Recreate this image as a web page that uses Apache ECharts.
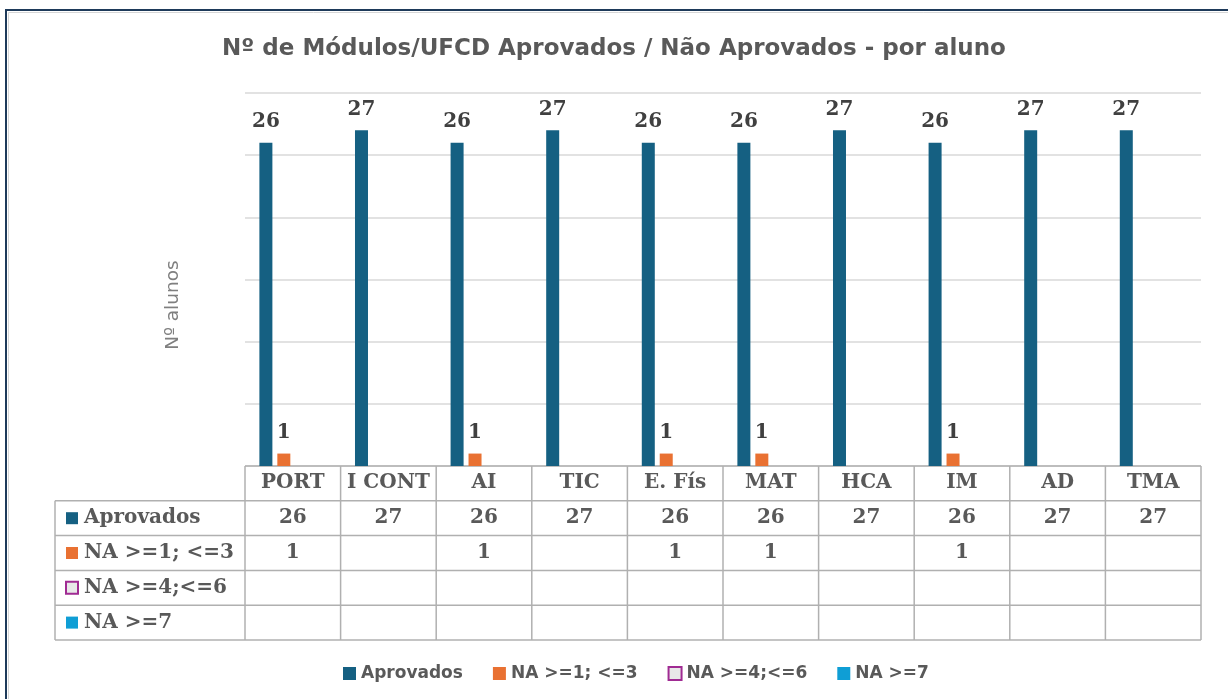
<!DOCTYPE html>
<html>
<head>
<meta charset="utf-8">
<script src="https://cdn.jsdelivr.net/npm/echarts@6/dist/echarts.min.js"></script>
<style>
	html, body { margin: 0; padding: 0; background: #fff; }
	#chart { width: 1228px; height: 699px; }
</style>
</head>
<body>
<div id="chart"></div>
<script>
	// data
	var categories = ['PORT', 'I CONT', 'AI', 'TIC', 'E. Fís', 'MAT', 'HCA', 'IM', 'AD', 'TMA'];
	var seriesNames = ['Aprovados', 'NA >=1; <=3', 'NA >=4;<=6', 'NA >=7'];
	var aprovados = [26, 27, 26, 27, 26, 26, 27, 26, 27, 27];
	var na1to3 = [1, null, 1, null, 1, 1, null, 1, null, null];
	var na4to6 = [null, null, null, null, null, null, null, null, null, null];
	var na7plus = [null, null, null, null, null, null, null, null, null, null];
	var colors = ['#156082', '#E97132', '#E8E8E8', '#0F9ED5'];

	var allValues = [aprovados, na1to3, na4to6, na7plus];
	var serifFont = '"DejaVu Serif", serif';
	var sansFont = '"DejaVu Sans", sans-serif';
	var gridTop = 93, gridBottom = 466, gridLeft = 245, gridRight = 1201;
	var rowH = 34.8;

	var chart = echarts.init(document.getElementById('chart'));

	function makeSeries(i) {
		var s = {
			name: seriesNames[i],
			type: 'bar',
			data: allValues[i],
			barWidth: 13,
			barGap: '38%',
			itemStyle: { color: colors[i] },
			label: {
				show: true,
				position: 'top',
				distance: 11,
				fontFamily: serifFont,
				fontWeight: 'bold',
				fontSize: 20,
				color: '#404040'
			}
		};
		if (i === 2) {
			s.itemStyle = { color: colors[i], borderColor: '#A02B93', borderWidth: 2 };
		}
		return s;
	}

	chart.setOption({
		animation: false,
		title: {
			text: 'Nº de Módulos/UFCD Aprovados / Não Aprovados - por aluno',
			left: 'center',
			top: 33,
			textStyle: { fontFamily: sansFont, fontWeight: 'bold', fontSize: 23, color: '#595959' }
		},
		legend: {
			bottom: 12,
			left: 338,
			itemWidth: 13,
			itemHeight: 13,
			itemGap: 30,
			icon: 'rect',
			textStyle: { fontFamily: sansFont, fontSize: 17, color: '#595959', fontWeight: 'bold' },
			data: seriesNames.map(function (n, i) {
				if (i === 2) return { name: n, itemStyle: { color: '#E8E8E8', borderColor: '#A02B93', borderWidth: 2 } };
				return { name: n };
			})
		},
		grid: { left: gridLeft, right: 1228 - gridRight, top: gridTop, bottom: 699 - gridBottom },
		xAxis: {
			type: 'category',
			data: categories,
			axisLine: { show: false },
			axisTick: { show: false },
			axisLabel: {
				interval: 0,
				margin: 7,
				fontFamily: serifFont,
				fontWeight: 'bold',
				fontSize: 20,
				color: '#595959'
			}
		},
		yAxis: {
			type: 'value',
			min: 0,
			max: 30,
			interval: 5,
			axisLabel: { show: false },
			axisLine: { show: false },
			axisTick: { show: false },
			splitLine: { lineStyle: { color: '#D9D9D9', width: 1.5 } }
		},
		series: [0, 1, 2, 3].map(makeSeries)
	});

	// data table under the plot, placed with the category scale
	function drawTable() {
		var els = [];
		var lineStyle = { stroke: '#B0B0B0', lineWidth: 1.5 };
		var half = (gridRight - gridLeft) / categories.length / 2;
		var tableLeft = 55;
		var top = gridBottom;
		var bottom = top + rowH * 5;

		// frame around the whole chart
		els.push({ type: 'rect', shape: { x: 6, y: 10, width: 1240, height: 720 }, style: { fill: null, stroke: '#1E3A5A', lineWidth: 2 } });
		els.push({ type: 'rect', shape: { x: 8.5, y: 12.5, width: 1236, height: 716 }, style: { fill: null, stroke: '#D6D6D6', lineWidth: 1 } });

		// horizontal lines
		els.push({ type: 'line', shape: { x1: gridLeft, y1: top, x2: gridRight, y2: top }, style: lineStyle });
		for (var r = 1; r <= 5; r++) {
			var y = top + rowH * r;
			els.push({ type: 'line', shape: { x1: tableLeft, y1: y, x2: gridRight, y2: y }, style: lineStyle });
		}
		// vertical lines
		els.push({ type: 'line', shape: { x1: tableLeft, y1: top + rowH, x2: tableLeft, y2: bottom }, style: lineStyle });
		categories.forEach(function (c, i) {
			var cx = chart.convertToPixel({ xAxisIndex: 0 }, c);
			els.push({ type: 'line', shape: { x1: cx - half, y1: top, x2: cx - half, y2: bottom }, style: lineStyle });
			if (i === categories.length - 1) {
				els.push({ type: 'line', shape: { x1: cx + half, y1: top, x2: cx + half, y2: bottom }, style: lineStyle });
			}
			// values
			allValues.forEach(function (vals, s) {
				if (vals[i] == null) return;
				els.push({
					type: 'text',
					style: {
						text: String(vals[i]), x: cx, y: top + rowH * (s + 1.5),
						textAlign: 'center', textVerticalAlign: 'middle',
						font: 'bold 20px ' + serifFont, fill: '#595959'
					}
				});
			});
		});
		// row headers with legend keys
		seriesNames.forEach(function (n, s) {
			var cy = top + rowH * (s + 1.5);
			var key = { type: 'rect', shape: { x: 66, y: cy - 6, width: 12, height: 12 }, style: { fill: colors[s] } };
			if (s === 2) key.style = { fill: colors[s], stroke: '#A02B93', lineWidth: 2 };
			els.push(key);
			els.push({
				type: 'text',
				style: {
					text: n, x: 84, y: cy, textAlign: 'left', textVerticalAlign: 'middle',
					font: 'bold 20px ' + serifFont, fill: '#595959'
				}
			});
		});
		// y axis title
		els.push({
			type: 'text', x: 173, y: 305, rotation: Math.PI / 2,
			style: {
				text: 'Nº alunos', textAlign: 'center', textVerticalAlign: 'middle',
				font: '18.5px ' + sansFont, fill: '#7F7F7F'
			}
		});
		chart.setOption({ graphic: { elements: els } });
	}

	drawTable();
</script>
</body>
</html>
